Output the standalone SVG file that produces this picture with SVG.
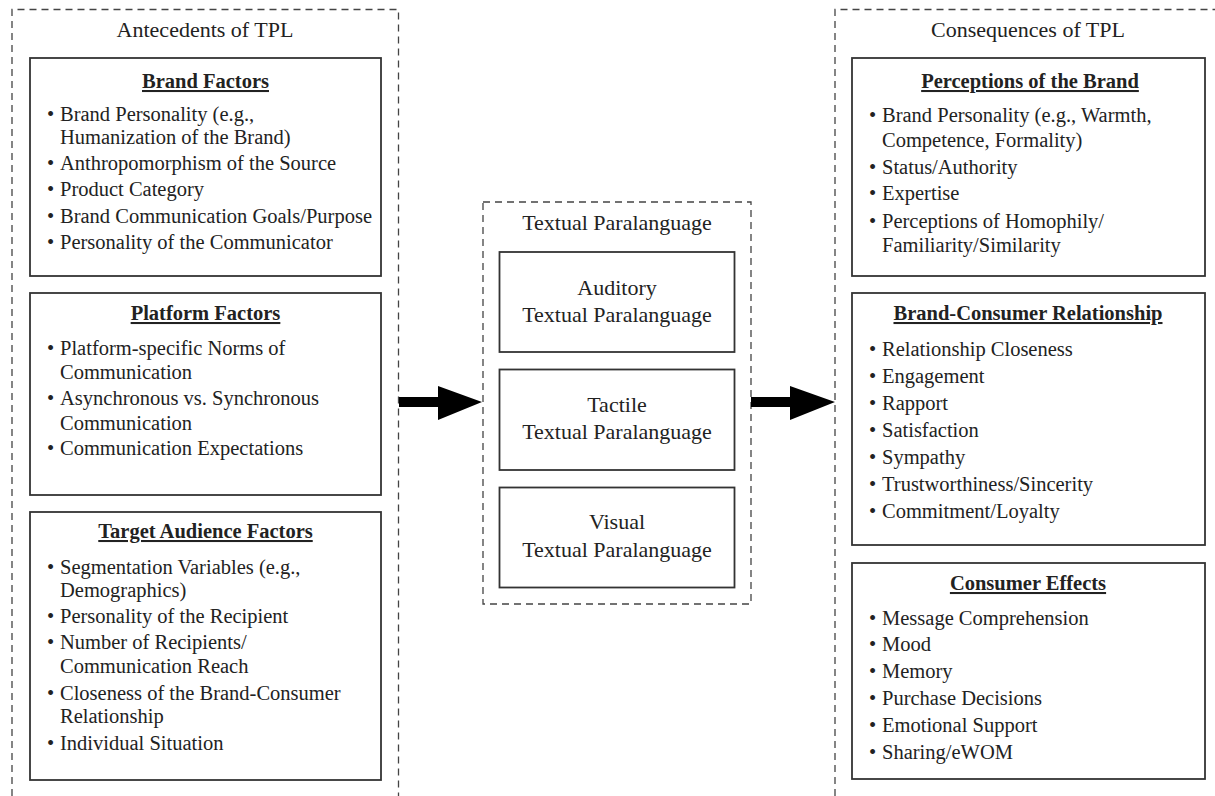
<svg xmlns="http://www.w3.org/2000/svg" width="1215" height="796" viewBox="0 0 1215 796">
<style>
text{font-family:"Liberation Serif","Times New Roman",serif;font-size:20.5px;fill:#222}
.t{font-size:22px;text-anchor:middle}
.h{font-weight:bold;text-decoration:underline;text-anchor:middle}
.box{fill:#fff;stroke:#333;stroke-width:1.8}
.dash{fill:none;stroke:#444;stroke-width:1.3;stroke-dasharray:7 5}
.arrow{fill:#000}
</style>
<rect width="1215" height="796" fill="#fff"/>
<g id="antecedents">
<path class="dash" d="M12,796 V9.5 H398.5 V796"/>
<text class="t" x="205" y="37">Antecedents of TPL</text>
</g>
<g id="brand-factors">
<rect class="box" x="30" y="58" width="351" height="218"/>
<text class="h" x="205.5" y="88">Brand Factors</text>
<text x="47" y="121">•</text><text x="60" y="121">Brand Personality (e.g.,</text>
<text x="60" y="144">Humanization of the Brand)</text>
<text x="47" y="170">•</text><text x="60" y="170">Anthropomorphism of the Source</text>
<text x="47" y="196">•</text><text x="60" y="196">Product Category</text>
<text x="47" y="223">•</text><text x="60" y="223">Brand Communication Goals/Purpose</text>
<text x="47" y="249">•</text><text x="60" y="249">Personality of the Communicator</text>
</g>
<g id="platform-factors">
<rect class="box" x="30" y="293" width="351" height="202"/>
<text class="h" x="205.5" y="320">Platform Factors</text>
<text x="47" y="355">•</text><text x="60" y="355">Platform-specific Norms of</text>
<text x="60" y="379">Communication</text>
<text x="47" y="405">•</text><text x="60" y="405">Asynchronous vs. Synchronous</text>
<text x="60" y="430">Communication</text>
<text x="47" y="455">•</text><text x="60" y="455">Communication Expectations</text>
</g>
<g id="target-audience-factors">
<rect class="box" x="30" y="512" width="351" height="268"/>
<text class="h" x="205.5" y="538">Target Audience Factors</text>
<text x="47" y="574">•</text><text x="60" y="574">Segmentation Variables (e.g.,</text>
<text x="60" y="597">Demographics)</text>
<text x="47" y="623">•</text><text x="60" y="623">Personality of the Recipient</text>
<text x="47" y="649">•</text><text x="60" y="649">Number of Recipients/</text>
<text x="60" y="673">Communication Reach</text>
<text x="47" y="700">•</text><text x="60" y="700">Closeness of the Brand-Consumer</text>
<text x="60" y="723">Relationship</text>
<text x="47" y="750">•</text><text x="60" y="750">Individual Situation</text>
</g>
<g id="textual-paralanguage">
<rect class="dash" x="483" y="202" width="268" height="402"/>
<text class="t" x="617" y="230">Textual Paralanguage</text>
</g>
<g id="auditory">
<rect class="box" x="499.5" y="252" width="235" height="100"/>
<text class="t" x="617" y="295">Auditory</text>
<text class="t" x="617" y="322">Textual Paralanguage</text>
</g>
<g id="tactile">
<rect class="box" x="499.5" y="369.5" width="235" height="100.5"/>
<text class="t" x="617" y="412">Tactile</text>
<text class="t" x="617" y="439">Textual Paralanguage</text>
</g>
<g id="visual">
<rect class="box" x="499.5" y="487.5" width="235" height="100"/>
<text class="t" x="617" y="529">Visual</text>
<text class="t" x="617" y="557">Textual Paralanguage</text>
</g>
<g id="consequences">
<path class="dash" d="M835,796 V9.5 H1215"/>
<text class="t" x="1028" y="37">Consequences of TPL</text>
</g>
<g id="perceptions">
<rect class="box" x="852" y="58" width="353" height="218"/>
<text class="h" x="1030" y="88">Perceptions of the Brand</text>
<text x="869" y="122">•</text><text x="882" y="122">Brand Personality (e.g., Warmth,</text>
<text x="882" y="147">Competence, Formality)</text>
<text x="869" y="174">•</text><text x="882" y="174">Status/Authority</text>
<text x="869" y="200">•</text><text x="882" y="200">Expertise</text>
<text x="869" y="228">•</text><text x="882" y="228">Perceptions of Homophily/</text>
<text x="882" y="252">Familiarity/Similarity</text>
</g>
<g id="brand-consumer-relationship">
<rect class="box" x="852" y="293" width="353" height="252"/>
<text class="h" x="1028" y="320">Brand-Consumer Relationship</text>
<text x="869" y="356">•</text><text x="882" y="356">Relationship Closeness</text>
<text x="869" y="383">•</text><text x="882" y="383">Engagement</text>
<text x="869" y="410">•</text><text x="882" y="410">Rapport</text>
<text x="869" y="437">•</text><text x="882" y="437">Satisfaction</text>
<text x="869" y="464">•</text><text x="882" y="464">Sympathy</text>
<text x="869" y="491">•</text><text x="882" y="491">Trustworthiness/Sincerity</text>
<text x="869" y="518">•</text><text x="882" y="518">Commitment/Loyalty</text>
</g>
<g id="consumer-effects">
<rect class="box" x="852" y="563" width="353" height="216"/>
<text class="h" x="1028" y="590">Consumer Effects</text>
<text x="869" y="625">•</text><text x="882" y="625">Message Comprehension</text>
<text x="869" y="651">•</text><text x="882" y="651">Mood</text>
<text x="869" y="678">•</text><text x="882" y="678">Memory</text>
<text x="869" y="705">•</text><text x="882" y="705">Purchase Decisions</text>
<text x="869" y="732">•</text><text x="882" y="732">Emotional Support</text>
<text x="869" y="759">•</text><text x="882" y="759">Sharing/eWOM</text>
</g>
<g id="connectors">
<polygon class="arrow" points="399,397 438,397 438,386 482,402 438,420 438,407 399,407"/>
<polygon class="arrow" points="751,397 790,397 790,386 835,402 790,420 790,407 751,407"/>
</g>
</svg>
